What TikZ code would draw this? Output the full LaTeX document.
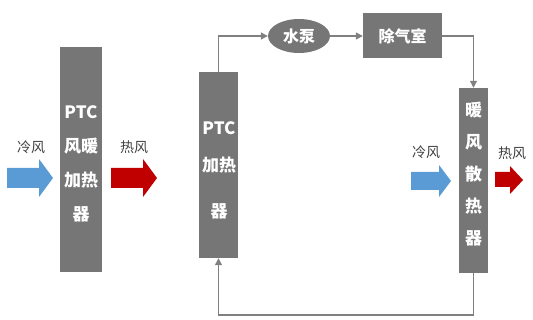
\documentclass[tikz,border=0pt]{standalone}
\usepackage{fontspec}
\setmainfont{Noto Sans CJK SC}
\usetikzlibrary{arrows.meta,shapes.geometric}
\definecolor{boxgrey}{HTML}{767676}
\definecolor{linegrey}{HTML}{808080}
\definecolor{coldblue}{HTML}{5B9BD5}
\definecolor{hotred}{HTML}{C00000}
\definecolor{labelgrey}{HTML}{404040}
\tikzset{
  greybox/.style={draw=none,fill=boxgrey,rectangle,inner sep=0pt},
  boxtext/.style={text=white,align=center,inner sep=0pt},
  conn/.style={draw=linegrey,line width=1.2pt,-{Triangle[length=7pt,width=7pt]}},
  airlabel/.style={text=labelgrey,inner sep=0pt,font=\fontsize{14}{16}\selectfont},
  blockarrow/.style={draw=none}
}
\begin{document}
\begin{tikzpicture}[x=1pt,y=-1pt]
\useasboundingbox (0,0) rectangle (533,320);
% boxes
\node[greybox,minimum width=42pt,minimum height=225pt] (ptcair) at (81,159.5) {};
\node[greybox,minimum width=39pt,minimum height=186pt] (ptc) at (218.5,165) {};
\node[greybox,ellipse,minimum width=62pt,minimum height=34pt] (pump) at (299,36) {};
\node[greybox,minimum width=79pt,minimum height=45pt] (deair) at (402.5,36) {};
\node[greybox,minimum width=29pt,minimum height=185pt] (rad) at (473.5,180.5) {};
% box texts
\node[boxtext,font=\bfseries\fontsize{17}{34}\selectfont] (ptcairtxt) at (81,164) {PTC\\风暖\\加热\\器};
\node[boxtext,font=\bfseries\fontsize{17}{37}\selectfont] (ptctxt) at (219,170) {PTC\\加热\\[9pt]器};
\node[boxtext,font=\bfseries\fontsize{16}{20}\selectfont] (pumptxt) at (pump.center) {水泵};
\node[boxtext,font=\bfseries\fontsize{16}{20}\selectfont] (deairtxt) at (deair.center) {除气室};
\node[boxtext,font=\bfseries\fontsize{17}{32}\selectfont] (radtxt) at (473.5,174) {暖\\风\\散\\热\\器};
% connectors
\draw[conn] (ptc.north) |- (pump.west);
\draw[conn] (pump.east) -- (deair.west);
\draw[conn] (deair.east) -| (rad.north);
\coordinate (loopcorner) at (473.5,315);
\draw[conn] (rad.south) -- (loopcorner) -| (ptc.south);
% air labels
\node[airlabel] (cold1) at (31,147) {冷风};
\node[airlabel] (hot1) at (134,147) {热风};
\node[airlabel] (cold2) at (426,152) {冷风};
\node[airlabel] (hot2) at (512,153) {热风};
% block arrows
\fill[coldblue] (7,168) -- (39,168) -- (39,159) -- (53,178) -- (39,197) -- (39,188) -- (7,188) -- cycle;
\fill[hotred] (111,168) -- (143,168) -- (143,159) -- (157,178) -- (143,197) -- (143,188) -- (111,188) -- cycle;
\fill[coldblue] (411,172) -- (439,172) -- (439,165) -- (451,181) -- (439,197) -- (439,190) -- (411,190) -- cycle;
\fill[hotred] (495,172) -- (510,172) -- (510,166) -- (523,180) -- (510,194) -- (510,187) -- (495,187) -- cycle;
\end{tikzpicture}
\end{document}
